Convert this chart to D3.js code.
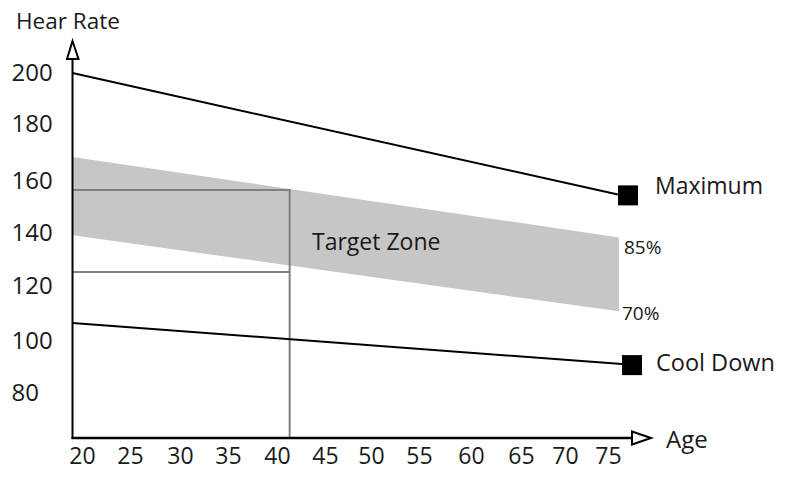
<!DOCTYPE html>
<html><head><meta charset="UTF-8">
<script src="https://cdnjs.cloudflare.com/ajax/libs/d3/7.8.5/d3.min.js"></script>
<style>
	html, body {margin:0; padding:0; background:#fff;}
	text {font-family:"Open Sans", sans-serif; fill:#1a1a1a;}
	.yaxis .tick text {font-size:24px;}
	.xaxis .tick text {font-size:23px;}
</style>
</head>
<body>
<svg id="chart" width="804" height="493"></svg>
<script>
// values
var yTicks = [200,180,160,140,120,100,80];
var xTicks = [20,25,30,35,40,45,50,55,60,65,70,75];
var bandAges = [20,74.1];
var upper85 = [168.4,138.2];
var lower70 = [139,110.4];
var maxAges = [20,74];
var maximum = [200,154.3];
var coolAges = [20,74.4];
var coolDown = [106,90.6];
var refAge = 41.5;
var refHigh = 156;
var refLow = 125.2;
var markers = [{name:"Maximum",age:75,value:154},{name:"Cool Down",age:75.4,value:90.2}];

// the printed labels don't sit exactly on the plotted scales, so they get their own
var xTickPx = [82,130,180,228,277,325,371,419,471,521,565,608];
var yTickPx = [73,124,181,233,286,341,393];

var svg = d3.select("#chart");
var x = d3.scaleLinear().domain([20,75]).range([72.5,628]);
var y = d3.scaleLinear().domain([62.8,200]).range([438,73]);
var xLabels = d3.scaleOrdinal().domain(xTicks).range(xTickPx);
var yLabels = d3.scaleOrdinal().domain(yTicks).range(yTickPx);

// target zone
var band = d3.area()
	.x(function(d){return x(d[0]);})
	.y0(function(d){return y(d[2]);})
	.y1(function(d){return y(d[1]);});
svg.append("path")
	.attr("d", band(d3.zip(bandAges,upper85,lower70)))
	.attr("fill","#c6c6c6");

// grey guide lines
var guide = d3.line().x(function(d){return x(d[0]);}).y(function(d){return y(d[1]);});
svg.append("path")
	.attr("d", guide([[20,refHigh],[refAge,refHigh],[refAge,62.8]]))
	.attr("fill","none").attr("stroke","#808080").attr("stroke-width",2);
svg.append("path")
	.attr("d", guide([[20,refLow],[refAge,refLow]]))
	.attr("fill","none").attr("stroke","#808080").attr("stroke-width",2);

// heart rate lines
svg.append("path").attr("d", guide(d3.zip(maxAges,maximum)))
	.attr("fill","none").attr("stroke","#000").attr("stroke-width",2);
svg.append("path").attr("d", guide(d3.zip(coolAges,coolDown)))
	.attr("fill","none").attr("stroke","#000").attr("stroke-width",2);

svg.selectAll("rect.marker").data(markers).enter().append("rect")
	.attr("class","marker")
	.attr("x",function(d){return x(d.age)-10;})
	.attr("y",function(d){return y(d.value)-10;})
	.attr("width",20).attr("height",20)
	.attr("fill","#000");

// axes
var yAxis = d3.axisLeft(yLabels).tickSize(0);
svg.append("g").attr("class","yaxis").attr("transform","translate(72.5,0)").call(yAxis)
	.call(function(g){
		g.select(".domain").remove();
		g.selectAll("text").attr("x",-61).attr("text-anchor","start");
	});
var xAxis = d3.axisBottom(xLabels).tickSize(0).tickPadding(0);
svg.append("g").attr("class","xaxis").attr("transform","translate(0,448)").call(xAxis)
	.call(function(g){g.select(".domain").remove();});

svg.append("line").attr("x1",72.5).attr("x2",72.5).attr("y1",58).attr("y2",439)
	.attr("stroke","#000").attr("stroke-width",2);
svg.append("line").attr("x1",71.5).attr("x2",632).attr("y1",438).attr("y2",438)
	.attr("stroke","#000").attr("stroke-width",2.5);
svg.append("path").attr("d","M72.5,41L78.5,59L67,59Z")
	.attr("fill","#fff").attr("stroke","#000").attr("stroke-width",2);
svg.append("path").attr("d","M632,431.5L651,438L632,444.5Z")
	.attr("fill","#fff").attr("stroke","#000").attr("stroke-width",2);

// text labels
var labels = [
	{t:"Hear Rate",x:16,y:29,s:22.5},
	{t:"Age",x:666,y:448,s:24},
	{t:"Maximum",x:655,y:194,s:23},
	{t:"Cool Down",x:656,y:371,s:23.5},
	{t:"Target Zone",x:312,y:250,s:23},
	{t:"85%",x:624,y:254,s:19},
	{t:"70%",x:622,y:320,s:19}
];
svg.selectAll("text.lbl").data(labels).enter().append("text")
	.attr("class","lbl")
	.attr("x",function(d){return d.x;})
	.attr("y",function(d){return d.y;})
	.attr("font-size",function(d){return d.s;})
	.text(function(d){return d.t;});
</script>
</body>
</html>
